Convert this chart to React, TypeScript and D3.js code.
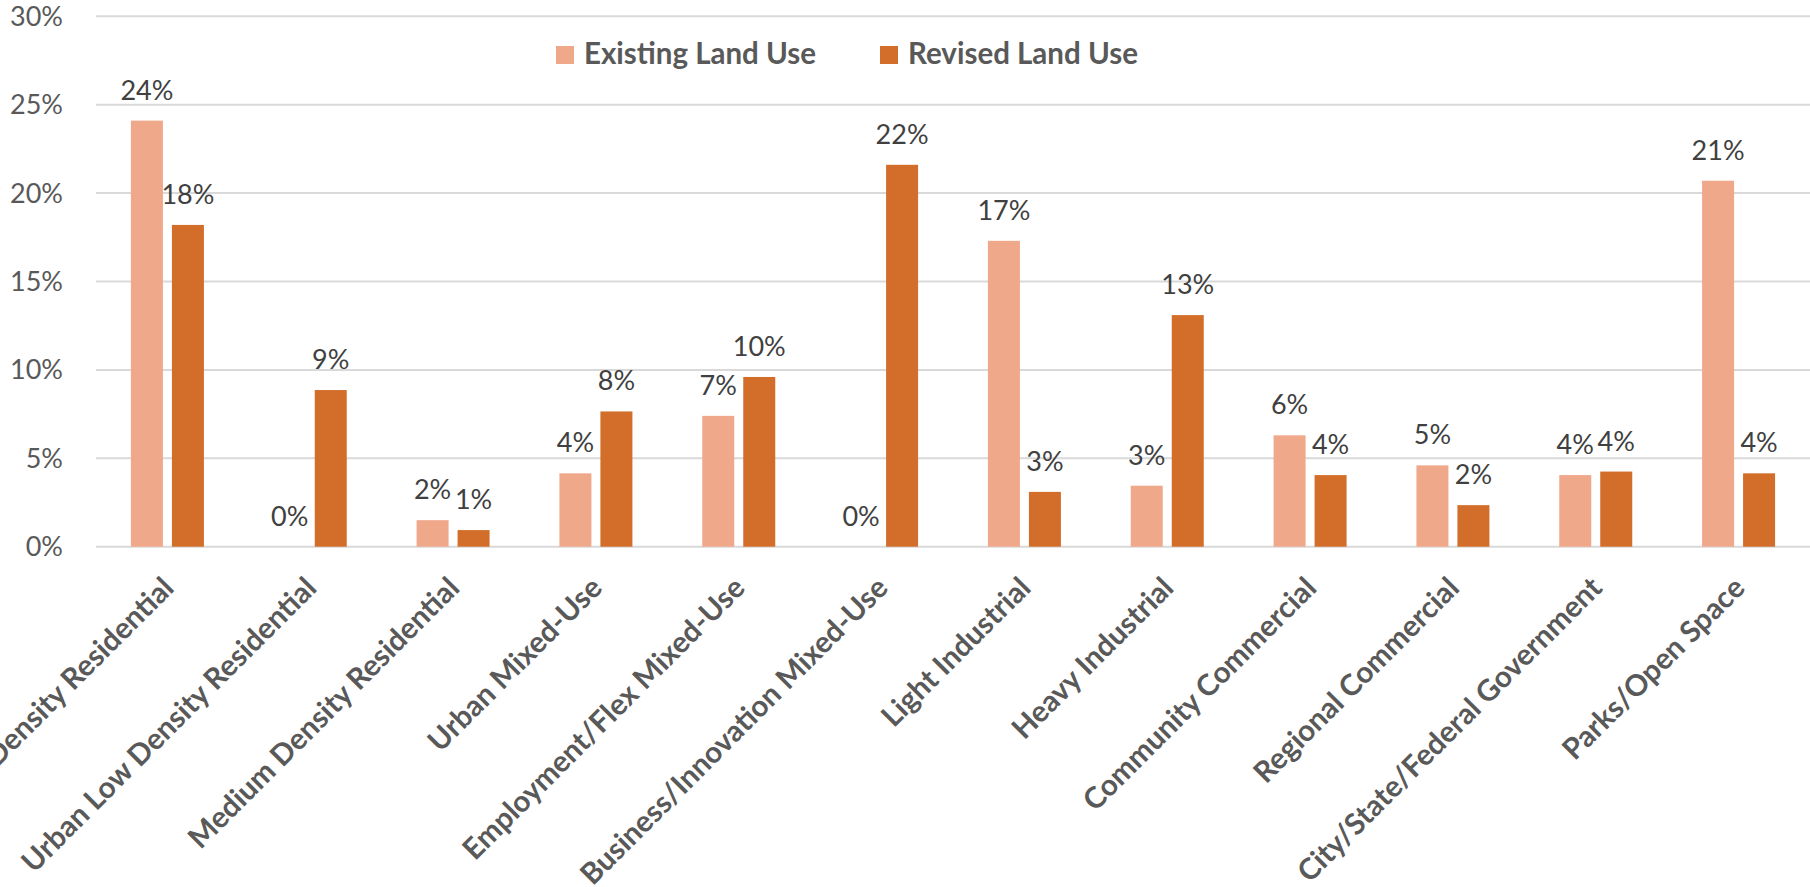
import React from "react";
import * as d3 from "d3";

const categories = [
  "Low Density Residential",
  "Urban Low Density Residential",
  "Medium Density Residential",
  "Urban Mixed-Use",
  "Employment/Flex Mixed-Use",
  "Business/Innovation Mixed-Use",
  "Light Industrial",
  "Heavy Industrial",
  "Community Commercial",
  "Regional Commercial",
  "City/State/Federal Government",
  "Parks/Open Space",
];
const seriesNames = ["Existing Land Use", "Revised Land Use"];
const existingValues = [24.1, 0, 1.5, 4.15, 7.4, 0, 17.3, 3.45, 6.3, 4.6, 4.05, 20.7];
const revisedValues = [18.2, 8.86, 0.94, 7.65, 9.6, 21.6, 3.1, 13.1, 4.05, 2.35, 4.25, 4.15];
const yTicks = [0, 5, 10, 15, 20, 25, 30];
const colors = ["#F0A88A", "#D26D2A"];

const W = 1810;
const H = 887;

export default function App() {
  const x = d3.scaleBand<string>().domain(categories).range([96, 1810]);
  const inner = d3
    .scaleBand<string>()
    .domain(seriesNames)
    .range([-36.5, 36.5])
    .paddingInner(9 / 41);
  const y = d3.scaleLinear().domain([0, 30]).range([546.7, 16.3]);
  const seriesValues = [existingValues, revisedValues];
  const font = "Lato, 'Open Sans', sans-serif";

  return (
    <svg
      width={W}
      height={H}
      style={{ position: "absolute", left: 0, top: 0, background: "#fff" }}
      fontFamily={font}
    >
      {/* gridlines */}
      {yTicks.map((t) => (
        <line
          key={"g" + t}
          x1={96}
          x2={W}
          y1={y(t)}
          y2={y(t)}
          stroke="#D9D9D9"
          strokeWidth={2}
        />
      ))}
      {/* y tick labels */}
      {yTicks.map((t) => (
        <text
          key={"t" + t}
          x={63}
          y={y(t)}
          dy="0.35em"
          textAnchor="end"
          fontSize={27}
          fill="#595959"
        >
          {t + "%"}
        </text>
      ))}
      {/* bars */}
      {seriesValues.map((vals, si) =>
        vals.map((v, i) => {
          const cx = (x(categories[i]) as number) + x.bandwidth() / 2;
          const bx = cx + (inner(seriesNames[si]) as number);
          return (
            <rect
              key={"b" + si + "-" + i}
              x={bx}
              width={inner.bandwidth()}
              y={y(v)}
              height={y(0) - y(v)}
              fill={colors[si]}
            />
          );
        })
      )}
      {/* data labels */}
      {seriesValues.map((vals, si) =>
        vals.map((v, i) => {
          const cx = (x(categories[i]) as number) + x.bandwidth() / 2;
          const bx = cx + (inner(seriesNames[si]) as number) + inner.bandwidth() / 2;
          return (
            <text
              key={"l" + si + "-" + i}
              x={bx}
              y={y(v) - 21}
              textAnchor="middle"
              fontSize={27}
              fill="#404040"
            >
              {Math.round(v) + "%"}
            </text>
          );
        })
      )}
      {/* category labels */}
      {categories.map((c) => {
        const cx = (x(c) as number) + x.bandwidth() / 2;
        const px = cx + 8;
        const py = y(0) + 43;
        return (
          <text
            key={"c" + c}
            x={px}
            y={py}
            transform={`rotate(-45 ${px} ${py})`}
            textAnchor="end"
            fontSize={29.5}
            fontWeight="bold"
            fill="#595959"
          >
            {c}
          </text>
        );
      })}
      {/* legend */}
      {seriesNames.map((s, si) => {
        const lx = [556, 880][si];
        return (
          <g key={"lg" + s}>
            <rect x={lx} y={46} width={18} height={18} fill={colors[si]} />
            <text
              x={lx + 28}
              y={64}
              fontSize={29.5}
              fontWeight="bold"
              fill="#595959"
            >
              {s}
            </text>
          </g>
        );
      })}
    </svg>
  );
}
